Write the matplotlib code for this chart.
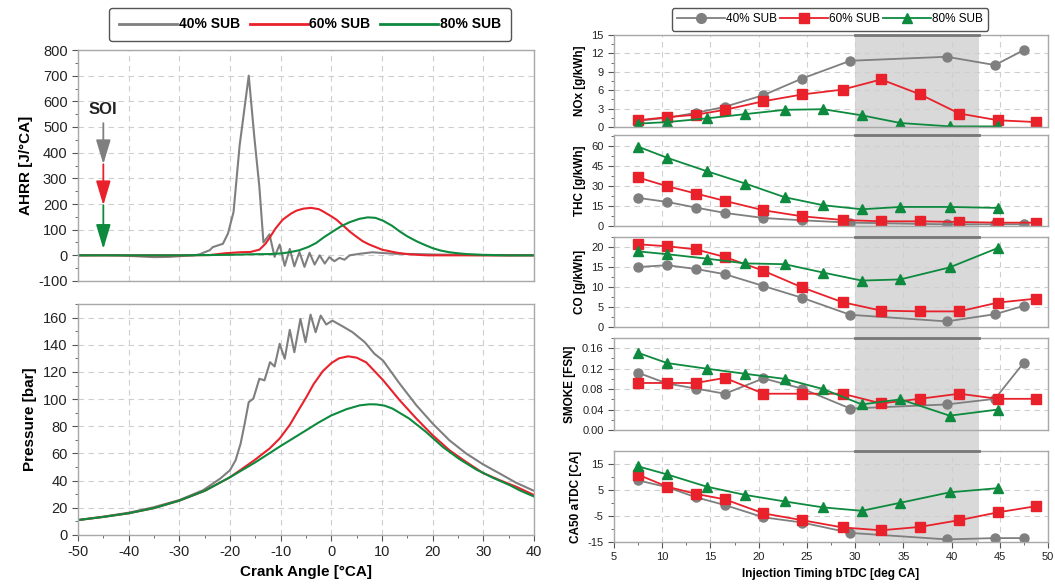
import numpy as np
import matplotlib.pyplot as plt
import matplotlib.transforms as mtransforms
from matplotlib.lines import Line2D
from matplotlib.patches import Rectangle
from matplotlib.ticker import MultipleLocator, FormatStrFormatter

plt.rcParams['font.family'] = ['Liberation Sans', 'DejaVu Sans']
plt.rcParams['axes.unicode_minus'] = False

GRAY = '#7f7f7f'
RED = '#e8212b'
GREEN = '#0d8a3e'
SPINE = '#a8a8a8'
GRID = '#cfcfcf'

labels = ['40% SUB', '60% SUB', '80% SUB']

# ---- heat release rate [J/degCA] vs crank angle ----
ahrr_x_40 = [-50, -45, -42, -38, -35, -32, -29, -27, -26, -24, -23.4, -21.4, -20.4, -19.3,
             -18.1, -16.3, -15.2, -14.2, -13.4, -12.2, -11.2, -10.2, -9.2, -8.2, -7.3, -6.3,
             -5.3, -4.3, -3.3, -2.3, -1.3, -0.4, 0.6, 1.6, 2.6, 3.6, 5.6, 8.1, 10.1, 12.8,
             16.8, 20.7, 24.6, 28, 32, 36, 40]
ahrr_40 = [0, 1, 0, -4, -7, -6, -2, 0, 4, 20, 32, 45, 85, 169,
           428, 700, 461, 266, 50, 82, -6, 42, -41, 25, -43, 13,
           -45, 10, -36, 0, -32, -7, -23, -10, -17, 0, 6, 12, 9, 6,
           5, 3, 2, 1, 0, 0, 0]

ahrr_x_60 = [-50, -30, -24, -21, -18, -16, -14.2, -13, -12, -11, -9.6, -8, -6.9, -5.5, -4,
             -2.5, -1.7, 0, 1, 2.5, 3.6, 5, 6.2, 7.5, 8.9, 10, 11.5, 13, 14.8, 17, 19, 25, 40]
ahrr_60 = [0, 0, 1, 8, 12, 13, 22, 45, 74, 105, 139, 162, 174, 182, 185,
           180, 172, 152, 139, 113, 93, 72, 55, 42, 31, 22, 16, 10, 5, 2, 0, 0, 0]

ahrr_x_80 = [-50, -30, -20, -16, -12, -9.6, -8, -6.3, -4.5, -3, -1.5, 0.3, 2, 3.6, 5.5,
             7.2, 8.7, 10.2, 12, 13.5, 15, 16.8, 18.5, 20, 21.5, 23.3, 25, 26.6, 29.9, 35, 40]
ahrr_80 = [0, 0, 2, 4, 5, 8, 13, 20, 33, 48, 70, 93, 114, 129, 142,
           148, 146, 135, 115, 93, 74, 55, 40, 28, 19, 12, 8, 5, 2, 0, 0]

# ---- cylinder pressure [bar] vs crank angle ----
p_x_40 = [-50, -45, -40, -35, -30, -25.3, -21.9, -20, -18.9, -17.9, -17.1, -16.3, -15.4,
          -14.2, -13.2, -12.1, -11.2, -10.2, -9.2, -8.2, -7.3, -6.1, -5.1, -4.1, -3.1,
          -2.1, -1.0, 0.2, 2.3, 4.2, 6.6, 8.5, 10.2, 13.5, 16.8, 20.0, 23.3, 26.6, 29.9,
          33.2, 36.5, 40]
p_40 = [11, 13.5, 16.4, 20.5, 25.7, 33, 41.6, 47.7, 55, 67.3, 82, 97.8, 100.3,
        115, 113.8, 127.2, 124, 140.7, 129.7, 151, 134.5, 159, 141.9, 162.2, 149.2,
        161.5, 154.9, 157.8, 153.4, 149.2, 141.9, 133.4, 128.4, 111.3, 95.4, 82, 69.7, 60, 52.1,
        45.3, 38.4, 32.5]

p_x_60 = [-50, -45, -40, -35, -30, -25, -20, -15.2, -12.2, -10.2, -8.2, -6.3, -5.0, -3.5,
          -1.7, 0, 1.5, 3.3, 5.0, 6.9, 10.2, 13.5, 16.8, 20.0, 23.3, 26.6, 29.9, 33.2, 36.5, 40]
p_60 = [11, 13.3, 16, 19.8, 25.3, 32.5, 42.5, 55, 63.6, 71, 81, 93, 101, 111,
        120.5, 126.5, 130, 131.5, 130.5, 127, 114, 99.1, 85.6, 73.4, 62.4, 53.8, 45.7, 40.4,
        35.5, 29.4]

p_x_80 = [-50, -45, -40, -35, -30, -25, -20, -15, -10, -5, -2.5, 0, 3.0, 5.6,
          7.5, 8.9, 10.5, 12.1, 15.4, 18.7, 22.0, 25.3, 28.6, 31.9, 35.2, 37.1, 40]
p_80 = [11, 13.3, 16, 19.8, 25.3, 32.5, 42.5, 53.5, 65.5, 77, 82.8, 88, 92.6, 95.4,
        96.2, 96.1, 95.2, 93, 85.6, 75.8, 64.8, 55.8, 48.2, 42.1, 36.7, 33, 28.3]

# ---- emissions and combustion phasing vs injection timing ----
x_40 = [7.5, 10.5, 13.5, 16.5, 20.5, 24.5, 29.5, 39.5, 44.5, 47.5]
x_60 = [7.5, 10.5, 13.5, 16.5, 20.5, 24.5, 28.7, 32.7, 36.7, 40.8, 44.8, 48.8]
x_80 = [7.5, 10.5, 14.6, 18.6, 22.7, 26.7, 30.7, 34.7, 39.8, 44.8]

nox_40 = [1.0, 1.5, 2.3, 3.3, 5.2, 7.9, 10.8, 11.45, 10.1, 12.55]
nox_60 = [1.1, 1.6, 2.0, 2.8, 4.2, 5.3, 6.1, 7.75, 5.35, 2.2, 1.1, 0.8]
nox_80 = [0.55, 0.8, 1.4, 2.1, 2.8, 2.9, 1.9, 0.65, 0.1, 0.1]

thc_40 = [21, 18, 13.75, 9.75, 6, 4.25, 2.5, 1.25, 1.25, 1.25]
thc_60 = [36.25, 29.75, 24.25, 18.75, 11.75, 7.25, 4.5, 3.5, 3.5, 3, 2.5, 2.5]
thc_80 = [59.3, 51, 41, 31.75, 21.5, 15.5, 12.5, 14.25, 14.25, 13.5]

co_40 = [15.0, 15.45, 14.5, 13.2, 10.25, 7.3, 3.05, 1.4, 3.2, 5.3]
co_60 = [20.66, 20.2, 19.4, 17.5, 14.05, 9.9, 6.2, 4.1, 3.9, 3.9, 6.1, 7.1]
co_80 = [18.9, 18.2, 17.1, 15.9, 15.7, 13.6, 11.6, 11.9, 14.9, 19.75]

smoke_40 = [0.112, 0.091, 0.081, 0.071, 0.101, 0.081, 0.042, 0.050, 0.061, 0.132]
smoke_60 = [0.092, 0.092, 0.092, 0.102, 0.071, 0.071, 0.071, 0.052, 0.061, 0.071, 0.061, 0.061]
smoke_80 = [0.151, 0.131, 0.120, 0.110, 0.100, 0.080, 0.050, 0.060, 0.028, 0.040]

ca50_40 = [8.7, 6.1, 2.2, -0.8, -5.5, -7.5, -11.5, -14.0, -13.5, -13.5]
ca50_60 = [10.9, 6.3, 3.5, 1.4, -4.0, -6.6, -9.4, -10.5, -9.2, -6.6, -3.6, -1.2]
ca50_80 = [14.1, 11.0, 6.3, 3.1, 0.6, -1.7, -3.0, 0.1, 4.1, 5.7]

# highlighted injection-timing window
window = (30.0, 42.8)

W, H = 1055, 584
fig = plt.figure(figsize=(W / 100, H / 100), dpi=100)


def box(left, top, right, bottom):
    return [left / W, 1 - bottom / H, (right - left) / W, (bottom - top) / H]


def style(ax, tick_size):
    for s in ax.spines.values():
        s.set_color(SPINE)
        s.set_linewidth(1.0)
    ax.grid(True, which='major', ls=(0, (5, 4)), color=GRID, lw=0.8)
    ax.set_axisbelow(True)
    ax.tick_params(which='both', direction='out', color='#555555', labelsize=tick_size,
                   labelcolor='#222222')
    ax.tick_params(which='major', length=4)
    ax.tick_params(which='minor', length=2.5)


# ---- left: AHRR ----
ax1 = fig.add_axes(box(78, 50, 534, 281))
ax1.plot(ahrr_x_40, ahrr_40, color=GRAY, lw=1.5)
ax1.plot(ahrr_x_60, ahrr_60, color=RED, lw=1.5)
ax1.plot(ahrr_x_80, ahrr_80, color=GREEN, lw=1.5)
ax1.set_xlim(-50, 40)
ax1.set_ylim(-100, 800)
ax1.xaxis.set_major_locator(MultipleLocator(10))
ax1.yaxis.set_major_locator(MultipleLocator(100))
ax1.yaxis.set_minor_locator(MultipleLocator(50))
style(ax1, 10.5)
ax1.tick_params(axis='x', which='both', length=0, labelbottom=False)
ax1.set_ylabel('AHRR [J/°CA]', fontsize=11, fontweight='bold', labelpad=4)

# start of injection markers
ax1.text(-45, 570, 'SOI', ha='center', va='center', fontsize=12, fontweight='bold',
         color='#222222')
for (y0, y1), c in zip([(515, 355), (355, 195), (195, 25)], [GRAY, RED, GREEN]):
    ax1.annotate('', xy=(-45, y1), xytext=(-45, y0),
                 arrowprops=dict(arrowstyle='-|>,head_length=1.5,head_width=0.45',
                                 color=c, lw=1.3, shrinkA=0, shrinkB=0, mutation_scale=10))

# ---- left: pressure ----
ax2 = fig.add_axes(box(78, 304, 534, 535))
ax2.plot(p_x_40, p_40, color=GRAY, lw=1.5)
ax2.plot(p_x_60, p_60, color=RED, lw=1.5)
ax2.plot(p_x_80, p_80, color=GREEN, lw=1.5)
ax2.set_xlim(-50, 40)
ax2.set_ylim(0, 170)
ax2.xaxis.set_major_locator(MultipleLocator(10))
ax2.xaxis.set_minor_locator(MultipleLocator(5))
ax2.yaxis.set_major_locator(MultipleLocator(20))
ax2.yaxis.set_minor_locator(MultipleLocator(10))
style(ax2, 10.5)
ax2.set_ylabel('Pressure [bar]', fontsize=11, fontweight='bold', labelpad=4)
ax2.set_xlabel('Crank Angle [°CA]', fontsize=11, fontweight='bold', labelpad=4)

fig.legend([Line2D([], [], color=c, lw=2) for c in (GRAY, RED, GREEN)], labels,
           loc='center', bbox_to_anchor=(310 / W, 1 - 24.5 / H), ncol=3,
           prop={'weight': 'bold', 'size': 10}, handlelength=4.2, handletextpad=0.1,
           columnspacing=0.7, borderpad=0.7, fancybox=True, edgecolor='#555555',
           framealpha=1)

# ---- right: stacked panels ----
panels = [
    ('NOx [g/kWh]', nox_40, nox_60, nox_80, (0, 15), 3, (35, 127), '%d'),
    ('THC [g/kWh]', thc_40, thc_60, thc_80, (0, 68), 15, (135, 226), '%d'),
    ('CO [g/kWh]', co_40, co_60, co_80, (0, 22.5), 5, (237, 327), '%d'),
    ('SMOKE [FSN]', smoke_40, smoke_60, smoke_80, (0, 0.18), 0.04, (338, 430), '%.2f'),
    ('CA50 aTDC [CA]', ca50_40, ca50_60, ca50_80, (-15, 20), 10, (451, 542), '%d'),
]

axes_r = []
for i, (name, y40, y60, y80, ylim, step, (top, bot), fmt) in enumerate(panels):
    ax = fig.add_axes(box(614, top, 1048, bot))
    ax.patch.set_alpha(0)
    ax.plot(x_40, y40, color=GRAY, lw=1.3, marker='o', ms=6.5)
    ax.plot(x_60, y60, color=RED, lw=1.3, marker='s', ms=6.5)
    ax.plot(x_80, y80, color=GREEN, lw=1.3, marker='^', ms=7)
    ax.set_xlim(5, 50)
    ax.set_ylim(*ylim)
    ax.xaxis.set_major_locator(MultipleLocator(5))
    ax.xaxis.set_minor_locator(MultipleLocator(2.5))
    if name.startswith('CA50'):
        ax.set_yticks([-15, -5, 5, 15])
        ax.set_yticks([-10, 0, 10], minor=True)
    else:
        ax.yaxis.set_major_locator(MultipleLocator(step))
        ax.yaxis.set_minor_locator(MultipleLocator(step / 2))
    ax.yaxis.set_major_formatter(FormatStrFormatter(fmt))
    style(ax, 8)
    ax.set_ylabel(name, fontsize=8.5, fontweight='bold', labelpad=4)
    if i < len(panels) - 1:
        ax.tick_params(axis='x', which='both', length=0, labelbottom=False)
    axes_r.append(ax)

axes_r[-1].set_xlabel('Injection Timing bTDC [deg CA]', fontsize=8.5, fontweight='bold',
                      labelpad=4)

# shaded window spanning all right panels
trans = mtransforms.blended_transform_factory(axes_r[-1].transData, fig.transFigure)
y_bot = 1 - 542 / H
y_top = 1 - 35 / H
fig.patches.append(Rectangle((window[0], y_bot), window[1] - window[0], y_top - y_bot,
                             transform=trans, facecolor='#d9d9d9', edgecolor='none',
                             zorder=-1))
for ax in axes_r:
    ax.plot(window, [1, 1], transform=ax.get_xaxis_transform(), color='#777777', lw=2,
            clip_on=False, zorder=5)

fig.legend([Line2D([], [], color=c, lw=1.3, marker=m, ms=7)
            for c, m in ((GRAY, 'o'), (RED, 's'), (GREEN, '^'))], labels,
           loc='center', bbox_to_anchor=(830 / W, 1 - 19.5 / H), ncol=3,
           prop={'size': 8.5}, handlelength=4, handletextpad=0.1, columnspacing=0.3,
           borderpad=0.45, fancybox=True, edgecolor='#555555', framealpha=1)

fig.savefig('out.png', dpi=100, facecolor='white')
